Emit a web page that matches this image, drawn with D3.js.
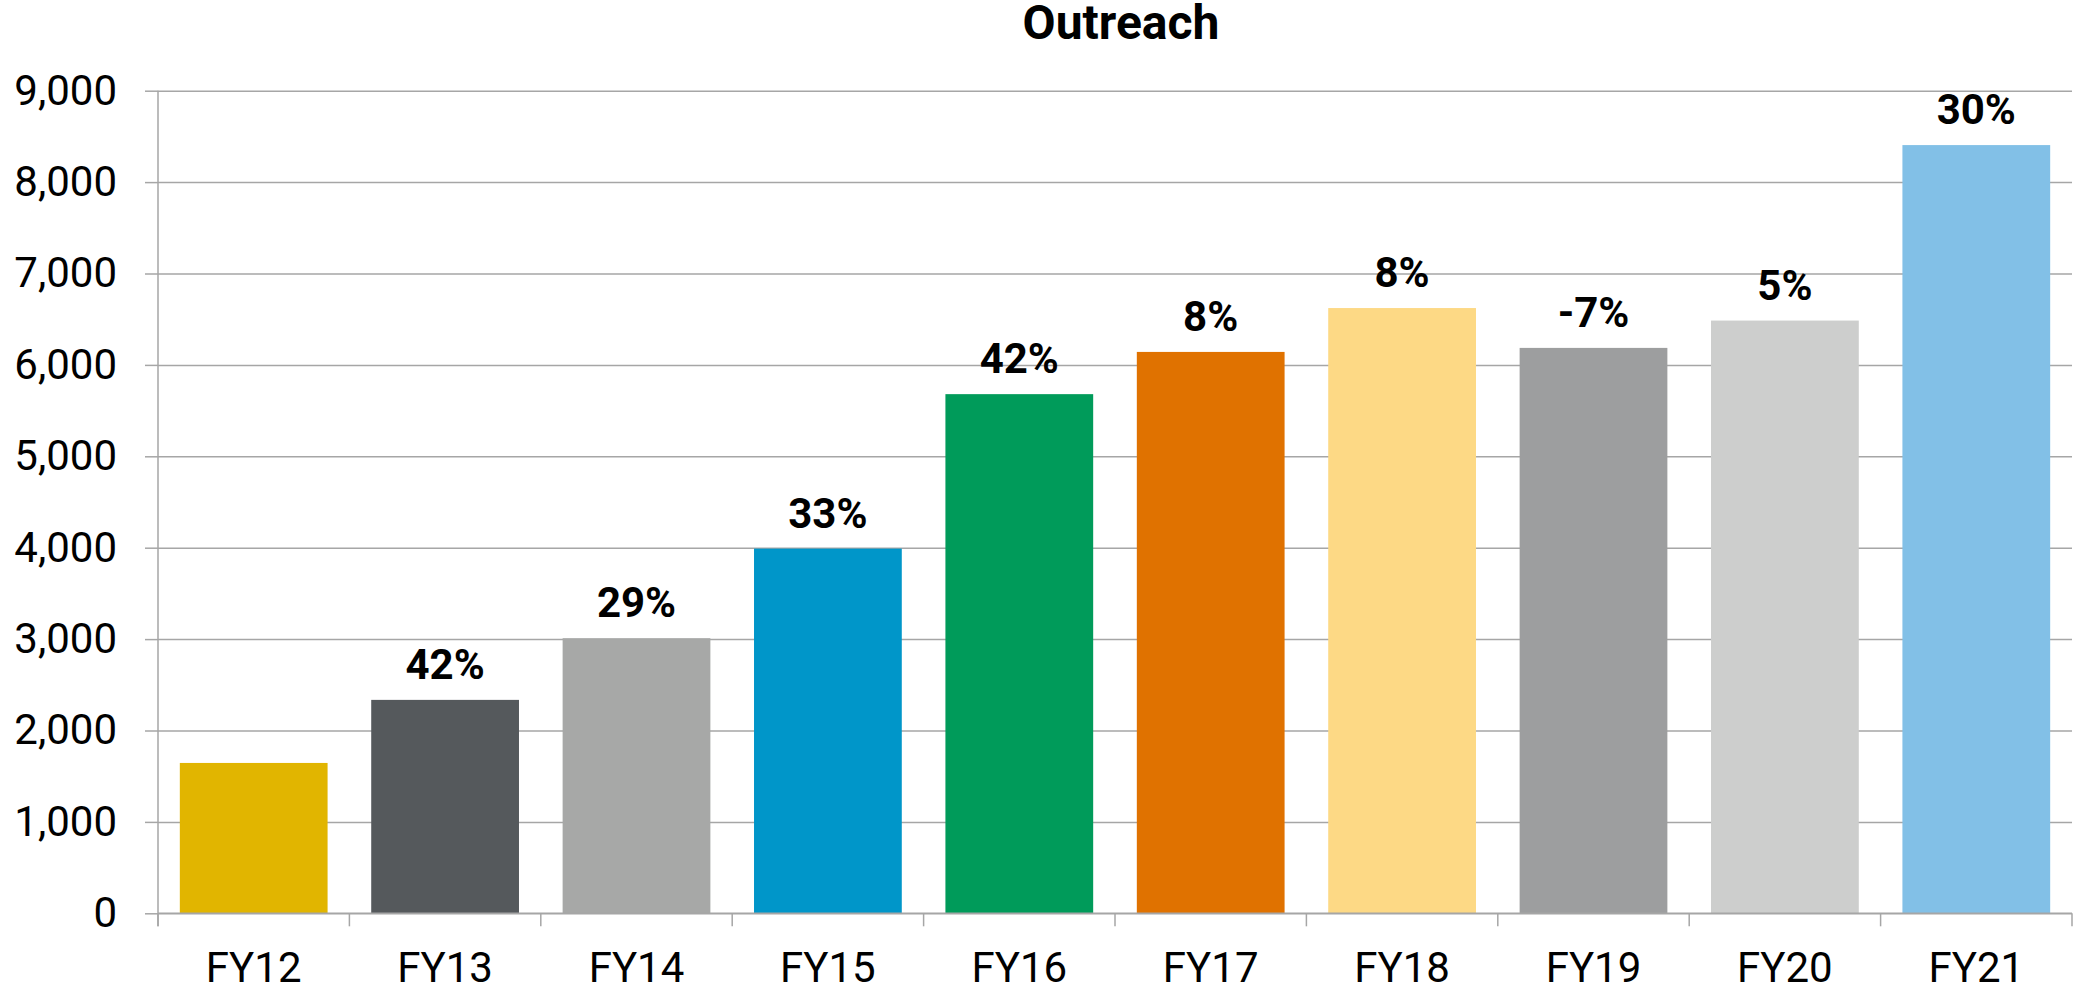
<!DOCTYPE html>
<html>
<head>
<meta charset="utf-8">
<script src="https://cdn.jsdelivr.net/npm/d3@7"></script>
<style>
  html, body { margin: 0; padding: 0; background: #fff; }
  svg { display: block; font-family: Roboto, "Noto Sans", sans-serif; }
</style>
</head>
<body>
<script>
// data
let years = ["FY12", "FY13", "FY14", "FY15", "FY16", "FY17", "FY18", "FY19", "FY20", "FY21"]
let outreach = [1645, 2335, 3010, 3990, 5680, 6142, 6622, 6186, 6485, 8405]
let growth = ["", "42%", "29%", "33%", "42%", "8%", "8%", "-7%", "5%", "30%"]
let colours = ["#e1b500", "#55595c", "#a7a8a7", "#0096c9", "#009b5a",
               "#e07200", "#fdd985", "#9d9e9f", "#cdcecd", "#82c0e7"]
let yTicks = [0, 1000, 2000, 3000, 4000, 5000, 6000, 7000, 8000, 9000]

let w = 2075
let h = 994

let mLeft = 158, mRight = 2072, mTop = 90.7, mBottom = 913.3

let svg = d3.select("body")
    .append("svg")
    .attr("width", w)
    .attr("height", h)
    .attr("viewBox", "0 0 " + w + " " + h)

let x = d3.scaleBand()
    .domain(years)
    .range([mLeft, mRight])
    .paddingInner(0.228)
    .paddingOuter(0.114)

let y = d3.scaleLinear()
    .domain([0, 9000])
    .range([mBottom, mTop])

let grey = "#a6a6a6"

// gridlines + y axis
let yAxis = svg.append("g")
    .attr("transform", "translate(" + mLeft + ",0)")
    .call(d3.axisLeft(y)
        .tickValues(yTicks)
        .tickSize(13)
        .tickPadding(28)
        .tickFormat(d3.format(",")))
yAxis.select(".domain").remove()
yAxis.selectAll(".tick line").attr("stroke", grey).attr("stroke-width", 1.5)
yAxis.selectAll(".tick").append("line")
    .attr("x1", 0)
    .attr("x2", mRight - mLeft)
    .attr("stroke", grey)
    .attr("stroke-width", 1.5)
yAxis.selectAll("text")
    .attr("font-size", 42)
    .attr("fill", "#000")
    .attr("font-family", "Roboto")

// bars
svg.append("g")
    .selectAll("rect")
    .data(years)
    .enter()
    .append("rect")
    .attr("x", d => x(d))
    .attr("width", x.bandwidth())
    .attr("y", (d, i) => y(outreach[i]))
    .attr("height", (d, i) => y(0) - y(outreach[i]))
    .attr("fill", (d, i) => colours[i])

// x axis line and ticks between categories
let step = x.step()
let bounds = d3.range(years.length + 1).map(i => mLeft + i * step)
svg.append("line")
    .attr("x1", mLeft).attr("x2", mRight)
    .attr("y1", mBottom).attr("y2", mBottom)
    .attr("stroke", grey).attr("stroke-width", 1.5)
svg.append("line")
    .attr("x1", mLeft).attr("x2", mLeft)
    .attr("y1", mTop).attr("y2", mBottom + 13)
    .attr("stroke", grey).attr("stroke-width", 1.5)
svg.append("g")
    .selectAll("line")
    .data(bounds)
    .enter()
    .append("line")
    .attr("x1", d => d).attr("x2", d => d)
    .attr("y1", mBottom).attr("y2", mBottom + 13)
    .attr("stroke", grey).attr("stroke-width", 1.5)

// category labels
svg.append("g")
    .selectAll("text")
    .data(years)
    .enter()
    .append("text")
    .attr("x", d => x(d) + x.bandwidth() / 2)
    .attr("y", 982)
    .attr("text-anchor", "middle")
    .attr("font-size", 42)
    .text(d => d)

// growth labels above bars
svg.append("g")
    .selectAll("text")
    .data(years)
    .enter()
    .append("text")
    .attr("x", d => x(d) + x.bandwidth() / 2)
    .attr("y", (d, i) => y(outreach[i]) - 21)
    .attr("text-anchor", "middle")
    .attr("font-size", 42)
    .attr("font-weight", "bold")
    .text((d, i) => growth[i])

// title
svg.append("text")
    .attr("x", 1121)
    .attr("y", 39)
    .attr("text-anchor", "middle")
    .attr("font-size", 48)
    .attr("font-weight", "bold")
    .text("Outreach")
</script>
</body>
</html>
